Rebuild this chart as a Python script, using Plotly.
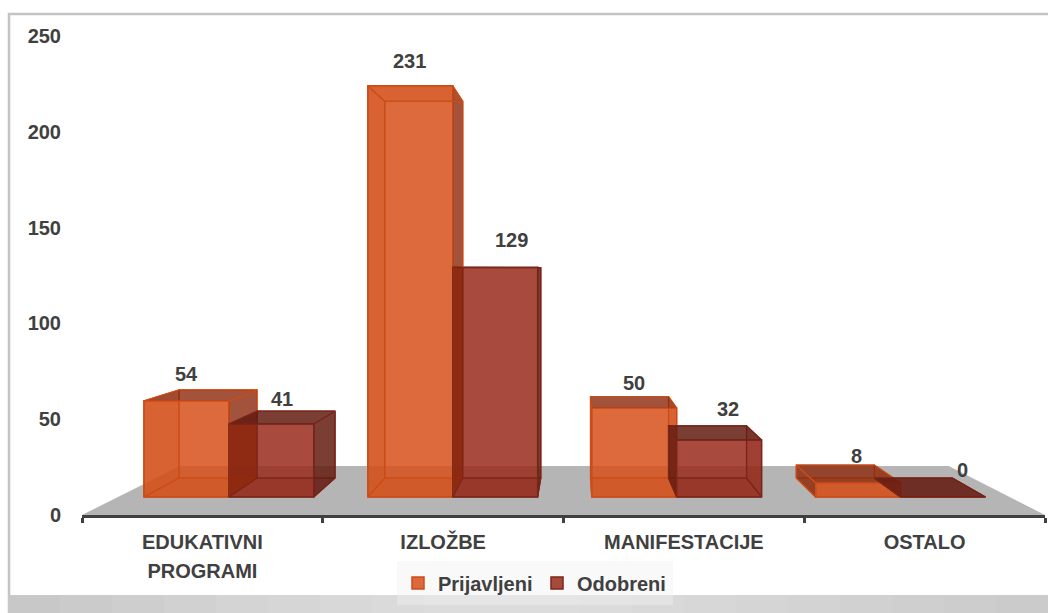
import plotly.graph_objects as go

categories = ["EDUKATIVNI<br>PROGRAMI", "IZLOŽBE", "MANIFESTACIJE", "OSTALO"]
series_names = ["Prijavljeni", "Odobreni"]
prijavljeni = [54, 231, 50, 8]
odobreni = [41, 129, 32, 0]
y_ticks = [0, 50, 100, 150, 200, 250]

FONT = "Liberation Sans"
INK = "#404040"
W, H = 1048, 613
L, R, T, B = 82, 1045, 36, 515

# perspective model, in axis units
FRONT_BASE, FRONT_K = 9.4, 0.929
BACK_BASE, BACK_K = 19.3, 0.851
VP, BACK_X = 2.054, 0.919
BAR_W, GROUP_STEP = 0.3527, 0.93
HORIZON = 127


def front_x(g, s):
    return 2.005 + (g - 1.5) * GROUP_STEP + (s - 1) * BAR_W


def back_x(x):
    return VP + (x - VP) * BACK_X


def px_x(p):
    return (p - L) / (R - L)


def px_y(p):
    return (B - p) / (B - T)


styles = [
    dict(front="rgba(215,80,26,0.85)", edge="#cc4d18",
         dark="rgba(140,40,10,0.80)", faint="rgba(205,75,20,0.22)"),
    dict(front="rgba(153,42,28,0.85)", edge="#7a261a",
         dark="rgba(100,28,18,0.85)", faint="rgba(130,30,20,0.22)"),
]

fig = go.Figure()

# real bars: the front faces
for s, vals in enumerate([prijavljeni, odobreni]):
    fig.add_bar(
        x=[front_x(g, s) + BAR_W / 2 for g in range(4)],
        y=[v * FRONT_K for v in vals],
        base=FRONT_BASE,
        width=BAR_W,
        name=series_names[s],
        marker=dict(color=styles[s]["front"],
                    line=dict(color=styles[s]["edge"], width=1.5)),
    )


def face(xs, ys, fill, edge):
    fig.add_scatter(
        x=xs + xs[:1], y=ys + ys[:1], mode="lines", fill="toself",
        fillcolor=fill, line=dict(color=edge, width=1.2),
        showlegend=False, hoverinfo="skip",
    )


for g in range(4):
    for s, vals in enumerate([prijavljeni, odobreni]):
        v = vals[g]
        st = styles[s]
        x0, x1 = front_x(g, s), front_x(g, s) + BAR_W
        bx0, bx1 = back_x(x0), back_x(x1)
        fb, ft = FRONT_BASE, FRONT_BASE + v * FRONT_K
        bb, bt = BACK_BASE, BACK_BASE + v * BACK_K
        # back
        face([bx0, bx1, bx1, bx0], [bb, bb, bt, bt], "rgba(0,0,0,0)", st["edge"])
        # floor of the box
        face([x0, x1, bx1, bx0], [fb, fb, bb, bb], st["faint"], st["edge"])
        # left and right
        face([x0, bx0, bx0, x0], [fb, bb, bt, ft],
             st["dark"] if x0 > bx0 + 0.01 else st["faint"], st["edge"])
        face([x1, bx1, bx1, x1], [fb, bb, bt, ft],
             st["dark"] if x1 < bx1 - 0.01 else st["faint"], st["edge"])
        # top
        face([x0, x1, bx1, bx0], [ft, ft, bt, bt],
             st["dark"] if v < HORIZON else st["faint"], st["edge"])

# value labels
shifts = [[(0, 27), (-1, 25), (0, 25), (-2, 27)],
          [(11, 25), (16, 27), (9, 31), (19, 27)]]
annotations = []
for s, vals in enumerate([prijavljeni, odobreni]):
    for g, v in enumerate(vals):
        annotations.append(dict(
            x=front_x(g, s) + BAR_W / 2, y=FRONT_BASE + v * FRONT_K,
            xref="x", yref="y",
            text=str(v), showarrow=False, xshift=shifts[s][g][0],
            yshift=shifts[s][g][1],
            font=dict(family=FONT, size=20, color=INK, weight="bold"),
            xanchor="center", yanchor="middle",
        ))

shapes = []
# frame
shapes.append(dict(type="rect", xref="paper", yref="paper", layer="below",
                   x0=px_x(9), x1=px_x(1060), y0=px_y(14), y1=px_y(700),
                   line=dict(color="#c4c4c4", width=2.5), fillcolor="white"))
# bottom band, stepped gradient
band = ["#c8c8c8", "#cbcbcb", "#cecece", "#d1d1d1", "#d4d4d4", "#d6d6d6", "#d8d8d8", "#dadada",
        "#dcdcdc", "#dcdcdc", "#dcdcdc", "#dbdbdb", "#d9d9d9", "#d7d7d7", "#d5d5d5", "#d3d3d3",
        "#d1d1d1", "#cfcfcf", "#cdcdcd", "#cbcbcb"]
step = (1048 - 8) / len(band)
for i, c in enumerate(band):
    shapes.append(dict(type="rect", xref="paper", yref="paper", layer="below",
                       x0=px_x(8 + i * step), x1=px_x(8 + (i + 1) * step),
                       y0=px_y(595), y1=px_y(613), line=dict(width=0), fillcolor=c))
# floor
shapes.append(dict(type="path", xref="x", yref="y", layer="below",
                   path="M 0 0 L 4 0 L 3.6 25.6 L 0.407 25.6 Z",
                   line=dict(width=0), fillcolor="#b5b5b5"))
# legend backdrop
shapes.append(dict(type="rect", xref="paper", yref="paper", layer="below",
                   x0=px_x(397), x1=px_x(673), y0=px_y(561), y1=px_y(605),
                   line=dict(width=0), fillcolor="rgba(240,240,240,0.42)"))

fig.update_layout(
    width=W, height=H,
    autosize=False,
    margin=dict(l=L, r=W - R, t=T, b=H - B, autoexpand=False),
    paper_bgcolor="white", plot_bgcolor="rgba(0,0,0,0)",
    barmode="overlay",
    showlegend=True,
    legend=dict(orientation="h", x=px_x(398), y=px_y(583), xanchor="left",
                yanchor="middle", bgcolor="rgba(0,0,0,0)",
                font=dict(family=FONT, size=20, color=INK, weight="bold"),
                traceorder="normal", itemwidth=30,
                entrywidth=94, entrywidthmode="pixels"),
    shapes=shapes,
    annotations=annotations,
    xaxis=dict(
        range=[0, 4], showgrid=False, zeroline=False,
        tickvals=[0.5, 1.5, 2.5, 3.5],
        ticktext=[f'<span style="font-size:20px">{c}</span>' for c in categories],
        ticklen=0, tickangle=0, ticklabelstandoff=5,
        tickfont=dict(family=FONT, size=22, color=INK, weight="bold"),
        showline=True, linecolor=INK, linewidth=3,
        minor=dict(tickvals=[0, 1, 2, 3, 4], ticks="outside", ticklen=5,
                   tickwidth=3, tickcolor=INK, showgrid=False),
    ),
    yaxis=dict(
        range=[0, 250], tickvals=y_ticks, showgrid=False, zeroline=False,
        showline=False, ticks="", ticklabelstandoff=20,
        tickfont=dict(family=FONT, size=20, color=INK, weight="bold"),
    ),
)

fig.write_html("out.html", config={"displayModeBar": False},
               post_script="document.body.style.margin='0';document.body.style.overflow='hidden';")
